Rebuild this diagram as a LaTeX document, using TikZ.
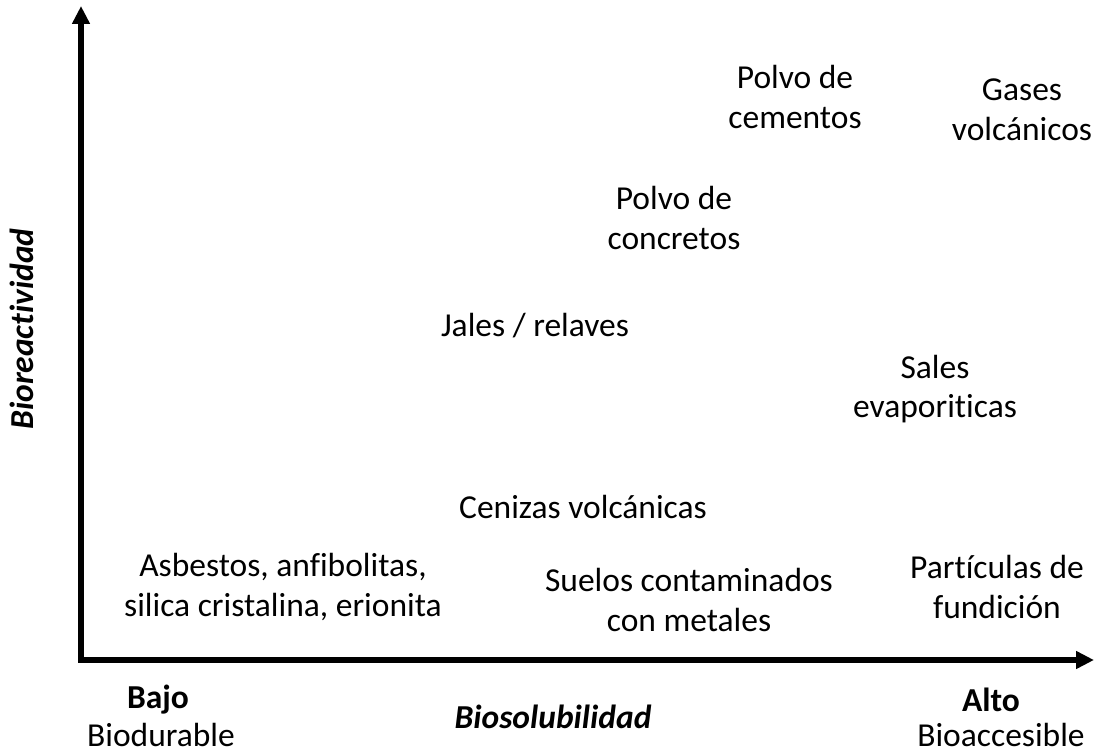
\documentclass[tikz,border=0pt]{standalone}
\usepackage{fontspec}
\setmainfont[Ligatures=NoCommon]{Carlito}
\usetikzlibrary{arrows.meta}
\begin{document}
\begin{tikzpicture}[x=1pt,y=-1pt,
  lbl/.style={align=center,font=\fontsize{33.5}{39.5}\selectfont,inner sep=0pt},
  axis/.style={line width=5.5pt,-{Triangle[width=17pt,length=18pt]}}]
\useasboundingbox (0,0) rectangle (1094,754);
\coordinate (o) at (81,660);
\coordinate (ytop) at (81,6);
\coordinate (xend) at (1094,660);
\draw[axis] (o) -- (ytop);
\draw[axis] ([xshift=-2.75pt]o) -- (xend);
\node[lbl] (pc) at (795,97) {Polvo de\\cementos};
\node[lbl] (gv) at (1022,110) {Gases\\volcánicos};
\node[lbl] (pco) at (674,218) {Polvo de\\concretos};
\node[lbl] (jr) at (535,326) {Jales / relaves};
\node[lbl] (se) at (935,389) {Sales\\evaporiticas};
\node[lbl] (cv) at (583,507) {Cenizas volcánicas};
\node[lbl] (as) at (283,587) {Asbestos, anfibolitas,\\silica cristalina, erionita};
\node[lbl] (sc) at (689,600) {Suelos contaminados\\con metales};
\node[lbl] (pf) at (997,587) {Partículas de\\fundición};
\node[lbl,font=\fontsize{33.5}{39.5}\selectfont\bfseries] (bajo) at (158,700) {Bajo};
\node[lbl] (bd) at (161,735) {Biodurable};
\node[lbl,font=\fontsize{33.5}{39.5}\selectfont\bfseries\itshape] (bs) at (553,717) {Biosolubilidad};
\node[lbl,font=\fontsize{33.5}{39.5}\selectfont\bfseries] (alto) at (991,700) {Alto};
\node[lbl] (ba) at (1001,735) {Bioaccesible};
\node[lbl,font=\fontsize{33.5}{39.5}\selectfont\bfseries\itshape,rotate=90] (br) at (22,329) {Bioreactividad};
\end{tikzpicture}
\end{document}
